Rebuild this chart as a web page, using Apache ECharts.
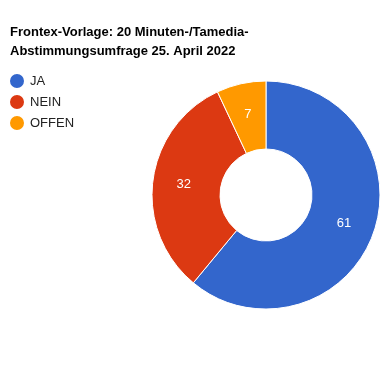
<!DOCTYPE html>
<html><head><meta charset="utf-8">
<script src="https://cdn.jsdelivr.net/npm/echarts@6/dist/echarts.min.js"></script>
<style>html,body{margin:0;padding:0;background:#fff}#c{width:390px;height:390px}</style>
</head><body><div id="c"></div>
<script>
const categories = ['JA', 'NEIN', 'OFFEN'];
const values = [61, 32, 7];
const colors = ['#3366cc', '#dc3912', '#ff9900'];
const titleText = 'Frontex-Vorlage: 20 Minuten-/Tamedia-\nAbstimmungsumfrage 25. April 2022';

const chart = echarts.init(document.getElementById('c'), null, {renderer: 'canvas'});
chart.setOption({
  animation: false,
  color: colors,
  title: {
    text: titleText,
    left: 5, top: 18,
    textStyle: {fontFamily: 'Liberation Sans, Arial', fontSize: 13, fontWeight: 'bold', color: '#000', lineHeight: 19}
  },
  legend: {
    orient: 'vertical', left: 3, top: 67,
    icon: 'circle', itemWidth: 16, itemHeight: 16, itemGap: 3,
    data: categories,
    textStyle: {fontFamily: 'Liberation Sans, Arial', fontSize: 13, color: '#222', lineHeight: 16}
  },
  series: [{
    type: 'pie',
    center: [266, 195],
    radius: [46, 114],
    startAngle: 90,
    clockwise: true,
    data: categories.map((c, i) => ({name: c, value: values[i]})),
    itemStyle: {borderColor: '#fff', borderWidth: 1},
    label: {position: 'inside', formatter: '{c}', color: '#fff', fontFamily: 'Liberation Sans, Arial', fontSize: 13},
    labelLine: {show: false},
    emphasis: {disabled: true}
  }]
});
</script></body></html>
